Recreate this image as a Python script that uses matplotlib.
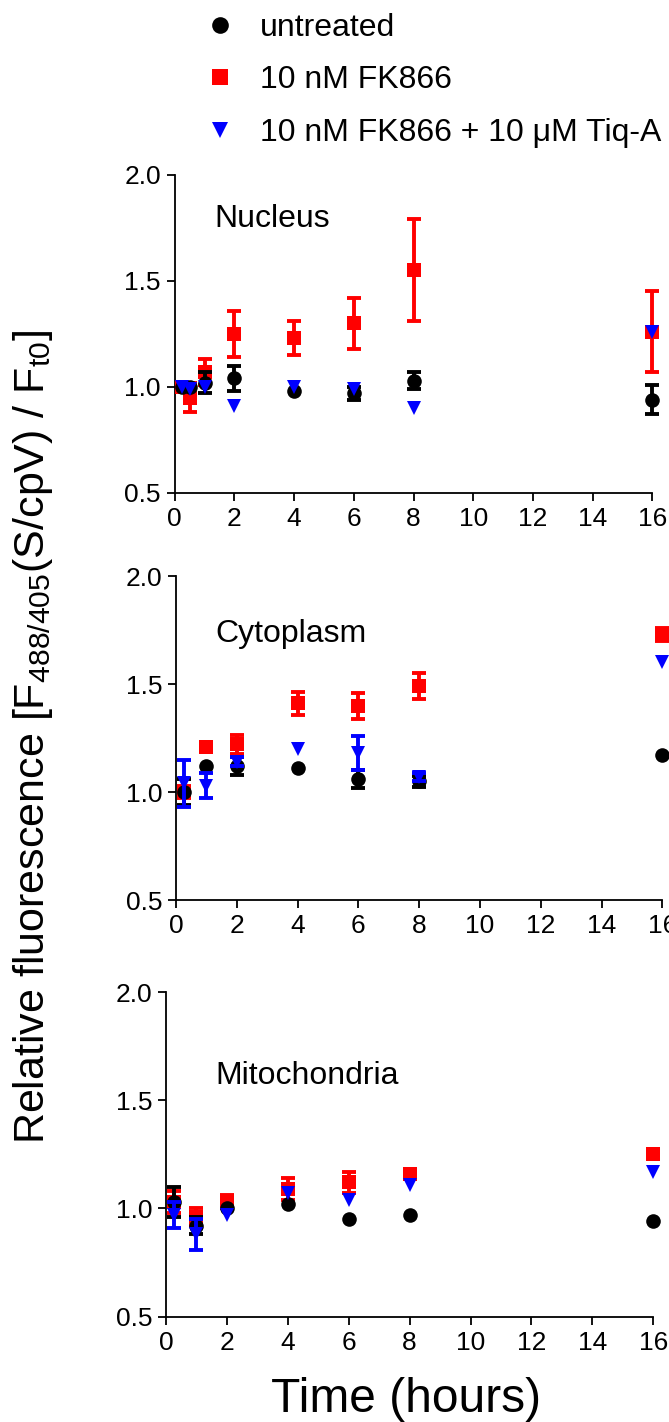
import numpy as np
import matplotlib
matplotlib.use('Agg')
import matplotlib.pyplot as plt
from matplotlib.lines import Line2D

plt.rcParams['font.family'] = ['Liberation Sans', 'DejaVu Sans']
plt.rcParams['mathtext.fontset'] = 'custom'
plt.rcParams['mathtext.rm'] = 'Liberation Sans'
plt.rcParams['mathtext.it'] = 'Liberation Sans'

# series labels and colours
labels = ['untreated', '10 nM FK866', '10 nM FK866 + 10 μM Tiq-A']
colors = ['black', '#ff0000', '#0000ff']
markers = ['o', 's', 'v']

# Nucleus
t_nuc = [0.25, 0.5, 1, 2, 4, 6, 8, 16]
nuc_untreated = [1.00, 1.00, 1.02, 1.04, 0.98, 0.97, 1.03, 0.94]
nuc_untreated_err = [0.0, 0.0, 0.05, 0.06, 0.0, 0.03, 0.04, 0.07]
nuc_fk = [1.00, 0.95, 1.07, 1.25, 1.23, 1.30, 1.55, 1.26]
nuc_fk_err = [0.0, 0.07, 0.06, 0.11, 0.08, 0.12, 0.24, 0.19]
nuc_tiq = [1.00, 0.99, 1.00, 0.91, 1.00, 0.99, 0.90, 1.26]
nuc_tiq_err = [0.0, 0.0, 0.0, 0.0, 0.0, 0.0, 0.0, 0.0]

# Cytoplasm
t_cyto = [0.25, 1, 2, 4, 6, 8, 16]
cyto_untreated = [1.00, 1.12, 1.12, 1.11, 1.06, 1.05, 1.17]
cyto_untreated_err = [0.06, 0.0, 0.04, 0.0, 0.04, 0.025, 0.0]
cyto_fk = [1.00, 1.21, 1.22, 1.41, 1.40, 1.49, 1.73]
cyto_fk_err = [0.03, 0.0, 0.045, 0.055, 0.06, 0.06, 0.03]
cyto_tiq = [1.04, 1.03, 1.14, 1.20, 1.18, 1.07, 1.60]
cyto_tiq_err = [0.11, 0.06, 0.02, 0.0, 0.08, 0.02, 0.0]

# Mitochondria
t_mito = [0.25, 1, 2, 4, 6, 8, 16]
mito_untreated = [1.03, 0.92, 1.00, 1.02, 0.95, 0.97, 0.94]
mito_untreated_err = [0.07, 0.04, 0.0, 0.0, 0.0, 0.0, 0.0]
mito_fk = [1.03, 0.96, 1.03, 1.09, 1.12, 1.16, 1.25]
mito_fk_err = [0.05, 0.04, 0.03, 0.05, 0.05, 0.02, 0.01]
mito_tiq = [0.97, 0.88, 0.97, 1.07, 1.04, 1.11, 1.17]
mito_tiq_err = [0.06, 0.07, 0.0, 0.0, 0.0, 0.0, 0.0]

panels = [
    ('Nucleus', t_nuc, [nuc_untreated, nuc_fk, nuc_tiq],
     [nuc_untreated_err, nuc_fk_err, nuc_tiq_err]),
    ('Cytoplasm', t_cyto, [cyto_untreated, cyto_fk, cyto_tiq],
     [cyto_untreated_err, cyto_fk_err, cyto_tiq_err]),
    ('Mitochondria', t_mito, [mito_untreated, mito_fk, mito_tiq],
     [mito_untreated_err, mito_fk_err, mito_tiq_err]),
]

W, H = 669, 1422
fig = plt.figure(figsize=(W / 100, H / 100), dpi=100)

# axes boxes in pixels: x0, x1, y_top, y_bottom
boxes = [(174.7, 652.3, 174.7, 493.0),
         (176.0, 662.3, 576.0, 900.0),
         (166.0, 653.3, 992.0, 1316.7)]
# panel title position (axes fraction, left / baseline)
title_pos = [(0.084, 0.836), (0.080, 0.796), (0.101, 0.717)]

draw_order = [1, 0, 2]  # red under black under blue

for (name, t, vals, errs), (x0, x1, yt, yb), tp in zip(panels, boxes, title_pos):
    ax = fig.add_axes([x0 / W, 1 - yb / H, (x1 - x0) / W, (yb - yt) / H])
    t = np.array(t)
    for k, i in enumerate(draw_order):
        v = np.array(vals[i])
        e = np.array(errs[i])
        has = e > 0
        if has.any():
            ax.errorbar(t[has], v[has], yerr=e[has], fmt='none', ecolor=colors[i],
                        elinewidth=2.8, capsize=4.8, capthick=2.8,
                        zorder=3 + 2 * k, clip_on=False)
        ax.plot(t, v, ls='none', marker=markers[i], color=colors[i],
                markersize=10.5, markeredgewidth=0, zorder=4 + 2 * k, clip_on=False)
    ax.set_xlim(0, 16)
    ax.set_ylim(0.5, 2.0)
    ax.set_xticks(np.arange(0, 17, 2))
    ax.set_yticks([0.5, 1.0, 1.5, 2.0])
    ax.set_yticklabels(['0.5', '1.0', '1.5', '2.0'])
    ax.spines['top'].set_visible(False)
    ax.spines['right'].set_visible(False)
    for s in ('left', 'bottom'):
        ax.spines[s].set_linewidth(1.3)
    ax.tick_params(length=6, width=1.3, labelsize=19, pad=4)
    ax.text(tp[0], tp[1], name, transform=ax.transAxes, fontsize=23,
            ha='left', va='baseline')

handles = [Line2D([], [], ls='none', marker=m, color=c, markersize=12, markeredgewidth=0)
           for m, c in zip(markers, colors)]
fig.legend(handles, labels, loc='upper left', bbox_to_anchor=(204 / W, 1 - 13 / H),
           frameon=False, fontsize=23, handlelength=1.0, handletextpad=0.75,
           labelspacing=0.70, borderpad=0, borderaxespad=0)

fig.text(406 / W, 1 - 1412 / H, 'Time (hours)', fontsize=34.5, ha='center', va='baseline')
fig.text(44 / W, 1 - 737 / H,
         r'Relative fluorescence [F$_{\mathrm{488/405}}$(S/cpV) / F$_{\mathrm{t0}}$]',
         fontsize=31, rotation=90, rotation_mode='anchor', ha='center', va='baseline')

fig.savefig('out.png', dpi=100)
